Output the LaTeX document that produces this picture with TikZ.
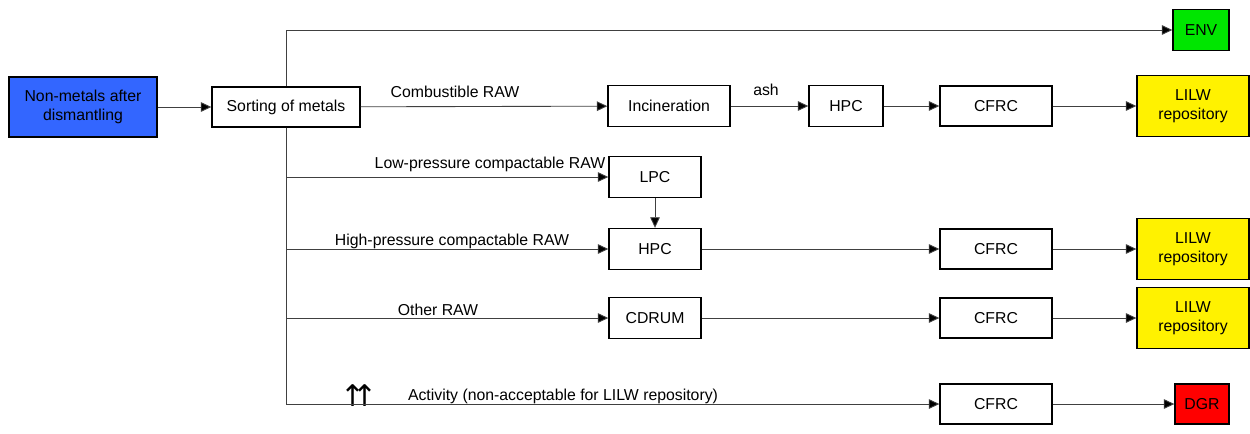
\documentclass[tikz,border=0pt]{standalone}
\usepackage{fontspec}
\setmainfont{Liberation Sans}
\newfontfamily\symfont{DejaVu Sans}
\usetikzlibrary{arrows.meta}
\definecolor{nmblue}{RGB}{51,102,255}
\definecolor{envgreen}{RGB}{0,230,0}
\tikzstyle{stage} = [draw=black, line width=.8pt, fill=white, align=center, inner sep=1pt, font=\fontsize{9}{10.5}\selectfont]
\tikzstyle{flowlbl} = [inner sep=1pt, font=\fontsize{9}{10.5}\selectfont]
\tikzstyle{flow} = [draw=black!75, line width=.5pt]
\tikzstyle{flowarr} = [flow, -{Triangle[length=6pt,width=5.5pt,fill=black]}]
\newcommand{\lilw}[2]{\node [stage, fill=yellow, minimum width=2.24cm, minimum height=1.22cm] (#1) at #2 {LILW\\repository};}
\newcommand{\cfrc}[2]{\node [stage, minimum width=2.24cm, minimum height=.8cm] (#1) at #2 {CFRC};}

\begin{document}
\begin{tikzpicture}[x=.02cm, y=-.02cm]
	\useasboundingbox (0,0) rectangle (1250,433);
	% source and sorting
	\node [stage, fill=nmblue, minimum width=2.96cm, minimum height=1.2cm] (src) at (83,107) {Non-metals after\\dismantling};
	\node [stage, minimum width=2.96cm, minimum height=.8cm] (sort) at (286,107) {Sorting of metals};
	% treatment
	\node [stage, minimum width=2.44cm, minimum height=.82cm] (incin) at (669,106) {Incineration};
	\node [stage, minimum width=1.48cm, minimum height=.82cm] (hpca) at (846,106) {HPC};
	\node [stage, minimum width=1.84cm, minimum height=.82cm] (lpc) at (655,177) {LPC};
	\node [stage, minimum width=1.84cm, minimum height=.82cm] (hpcb) at (655,249) {HPC};
	\node [stage, minimum width=1.84cm, minimum height=.82cm] (cdrum) at (655,318) {CDRUM};
	\cfrc{cfrca}{(996,106)}
	\cfrc{cfrcb}{(996,249)}
	\cfrc{cfrcc}{(996,318)}
	\cfrc{cfrcd}{(996,404)}
	% destinations
	\node [stage, fill=envgreen, minimum width=1.12cm, minimum height=.82cm] (env) at (1201,30) {ENV};
	\lilw{lilwa}{(1193,106)}
	\lilw{lilwb}{(1193,249)}
	\lilw{lilwc}{(1193,318)}
	\node [stage, fill=red, minimum width=1.08cm, minimum height=.8cm] (dgr) at (1202,404) {DGR};
	% labels
	\node [flowlbl] (lcomb) at (455,92) {Combustible RAW};
	\node [flowlbl] (lash) at (766,90) {ash};
	\node [flowlbl] (llow) at (490,164) {Low-pressure compactable RAW};
	\node [flowlbl] (lhigh) at (452,241) {High-pressure compactable RAW};
	\node [flowlbl] (lother) at (438,310) {Other RAW};
	\node [flowlbl, font=\symfont\fontsize{17}{17}\selectfont] (lup) at (359,396) {↑\kern-7pt↑};
	\node [flowlbl] (lact) at (563,396) {Activity (non-acceptable for LILW repository)};
	% flows
	\draw[flowarr] (src) -- (sort);
	\draw[flowarr] (sort.north) |- (env);
	\draw[flowarr] (sort) -- (incin);
	\draw[flowarr] (incin) -- (hpca);
	\draw[flowarr] (hpca) -- (cfrca);
	\draw[flowarr] (cfrca) -- (lilwa);
	\draw[flowarr] (sort.south) |- (lpc);
	\draw[flowarr] (lpc) -- (hpcb);
	\draw[flowarr] (sort.south) |- (hpcb);
	\draw[flowarr] (hpcb) -- (cfrcb);
	\draw[flowarr] (cfrcb) -- (lilwb);
	\draw[flowarr] (sort.south) |- (cdrum);
	\draw[flowarr] (cdrum) -- (cfrcc);
	\draw[flowarr] (cfrcc) -- (lilwc);
	\draw[flowarr] (sort.south) |- (cfrcd);
	\draw[flowarr] (cfrcd) -- (dgr);
\end{tikzpicture}
\end{document}
